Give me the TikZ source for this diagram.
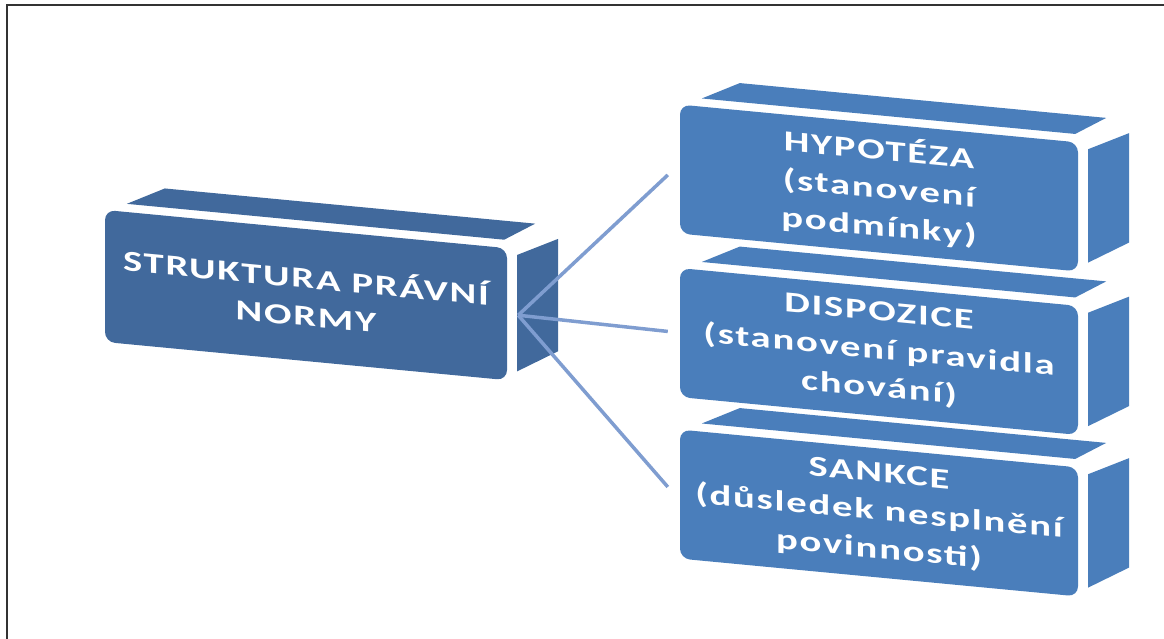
\documentclass[tikz,border=0pt]{standalone}
\usepackage{fontspec}
\setmainfont{Carlito}
\newfontfamily\blockfont[FakeStretch=1.4,LetterSpace=6]{Carlito}
\usetikzlibrary{calc}
\definecolor{frontblue}{HTML}{4A7EBB}
\definecolor{normblue}{HTML}{41699C}
\definecolor{wireblue}{HTML}{7F9DD0}
\tikzset{
  part/.style={rectangle, rounded corners=10pt, fill=frontblue, text=white, minimum width=398pt, minimum height=129pt, inner sep=0pt, align=center, font=\blockfont\bfseries\fontsize{29}{38}\selectfont},
  head/.style={part, fill=normblue, minimum width=402pt, minimum height=132pt},
  wire/.style={draw=wireblue, line width=3.5pt},
}
% top and right faces of a block
\newcommand{\slabsides}[2]{%
  \fill[#2] ($(#1.north west)+(22,8)$) -- ($(#1.north east)+(-3,8)$) -- ($(#1.north east)+(28,27)$) -- ($(#1.north west)+(60,27)$) -- cycle;
  \fill[#2] ($(#1.north east)+(10,-6)$) -- ($(#1.south east)+(10,10)$) -- ($(#1.south east)+(51,34)$) -- ($(#1.north east)+(51,14)$) -- cycle;
}
\begin{document}
\begin{tikzpicture}[x=1pt,y=1pt]
\useasboundingbox (0,0) rectangle (1164,-639);
\draw[line width=1.5pt, draw=black!80] (7,-639) -- (7,-5) -- (1164,-5);
\begin{scope}[yslant=-0.095, transform shape]
  \node[head] (norma) at (306,-266) {STRUKTURA PRÁVNÍ\\NORMY};
  \slabsides{norma}{normblue}
  \node[part] (hypo) at (879,-104.5) {HYPOTÉZA\\(stanovení\\podmínky)};
  \slabsides{hypo}{frontblue}
  \node[part] (dispo) at (879,-268) {DISPOZICE\\(stanovení pravidla\\chování)};
  \slabsides{dispo}{frontblue}
  \node[part] (sankce) at (879,-429.5) {SANKCE\\(důsledek nesplnění\\povinnosti)};
  \slabsides{sankce}{frontblue}
  % connectors
  \coordinate (hub) at ($(norma.east)+(11,0)$);
  \coordinate (hypoin) at ($(hypo.west)+(-12,-7)$);
  \coordinate (dispoin) at ($(dispo.west)+(-12,0)$);
  \coordinate (sankcein) at ($(sankce.west)+(-12,6)$);
  \draw[wire] (hub) -- (hypoin);
  \draw[wire] (hub) -- (dispoin);
  \draw[wire] (hub) -- (sankcein);
\end{scope}
\end{tikzpicture}
\end{document}
